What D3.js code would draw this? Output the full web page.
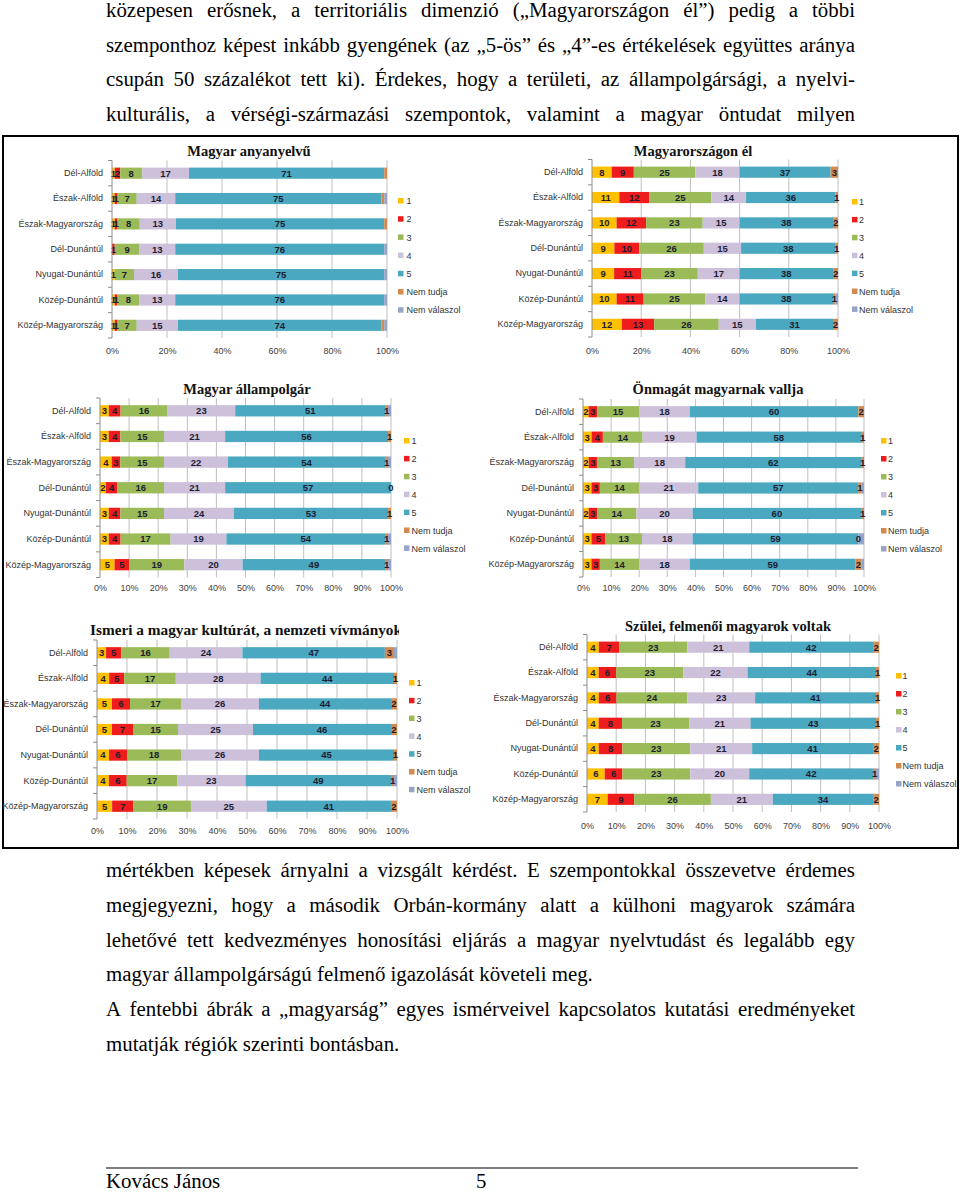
<!DOCTYPE html>
<html><head><meta charset="utf-8">
<script src="https://cdn.jsdelivr.net/npm/d3@7/dist/d3.min.js"></script>
<style>html,body{margin:0;padding:0;background:#fff}svg{display:block}</style>
</head><body>
<svg id="page" width="960" height="1192"></svg>
<script>
// ---------- DATA ----------
const regions = ["Dél-Alföld","Észak-Alföld","Észak-Magyarország","Dél-Dunántúl","Nyugat-Dunántúl","Közép-Dunántúl","Közép-Magyarország"];
const seriesNames = ["1","2","3","4","5","Nem tudja","Nem válaszol"];
const seriesColors = ["#FFC000","#EE1C1C","#9BBB59","#CCC0DA","#4AA8C0","#D48A4E","#96A4C6"];
const tickValues20 = [0,0.2,0.4,0.6,0.8,1];
const tickLabels20 = ["0%","20%","40%","60%","80%","100%"];
const tickValues10 = [0,0.1,0.2,0.3,0.4,0.5,0.6,0.7,0.8,0.9,1];
const tickLabels10 = ["0%","10%","20%","30%","40%","50%","60%","70%","80%","90%","100%"];
// values per region: [1, 2, 3, 4, 5, Nem tudja, Nem válaszol]
const anyanyelvu = [
  [1,2,8,17,71,1,null],[1,1,7,14,75,1,1],[1,1,8,13,75,1,null],[null,1,9,13,76,null,1],
  [1,null,7,16,75,null,1],[1,1,8,13,76,null,1],[1,1,7,15,74,1,1]];
const magyarorszagon = [
  [8,9,25,18,37,3,null],[11,12,25,14,36,1,null],[10,12,23,15,38,2,null],[9,10,26,15,38,1,null],
  [9,11,23,17,38,2,null],[10,11,25,14,38,1,1],[12,13,26,15,31,2,null]];
const allampolgar = [
  [3,4,16,23,51,1,1],[3,4,15,21,56,1,null],[4,3,15,22,54,1,1],[2,4,16,21,57,0,null],
  [3,4,15,24,53,1,null],[3,4,17,19,54,1,1],[5,5,19,20,49,1,1]];
const onmagat = [
  [2,3,15,18,60,2,null],[3,4,14,19,58,1,null],[2,3,13,18,62,1,null],[3,3,14,21,57,1,1],
  [2,3,14,20,60,1,null],[3,5,13,18,59,0,2],[3,3,14,18,59,2,1]];
const kultura = [
  [3,5,16,24,47,3,1],[4,5,17,28,44,1,null],[5,6,17,26,44,2,null],[5,7,15,25,46,2,null],
  [4,6,18,26,45,1,null],[4,6,17,23,49,1,1],[5,7,19,25,41,2,null]];
const szulei = [
  [4,7,23,21,42,2,null],[4,6,23,22,44,1,null],[4,6,24,23,41,1,null],[4,8,23,21,43,1,null],
  [4,8,23,21,41,2,null],[6,6,23,20,42,1,1],[7,9,26,21,34,2,null]];
const chartTitles = ["Magyar anyanyelvű","Magyarországon él","Magyar állampolgár","Önmagát magyarnak vallja",
  "Ismeri a magyar kultúrát, a nemzeti vívmányokat","Szülei, felmenői magyarok voltak"];

const textTop = [
  {t:"közepesen erősnek, a territoriális dimenzió („Magyarországon él”) pedig a többi", j:true},
  {t:"szemponthoz képest inkább gyengének (az „5-ös” és „4”-es értékelések együttes aránya", j:true},
  {t:"csupán 50 százalékot tett ki). Érdekes, hogy a területi, az állampolgársági, a nyelvi-", j:true},
  {t:"kulturális, a vérségi-származási szempontok, valamint a magyar öntudat milyen", j:true}];
const textBottom = [
  {t:"mértékben képesek árnyalni a vizsgált kérdést.  E szempontokkal összevetve érdemes", j:true},
  {t:"megjegyezni, hogy a második Orbán-kormány alatt a külhoni magyarok számára", j:true},
  {t:"lehetővé tett kedvezményes honosítási eljárás a magyar nyelvtudást és legalább egy", j:true},
  {t:"magyar állampolgárságú felmenő igazolását követeli meg.", j:false},
  {t:"A fentebbi ábrák a „magyarság” egyes ismérveivel kapcsolatos kutatási eredményeket", j:true},
  {t:"mutatják régiók szerinti bontásban.", j:false}];
const footerName = "Kovács János";
const footerPage = "5";

// ---------- LAYOUT ----------
const svg = d3.select("#page");
const charts = [
  {data:anyanyelvu, x0:112, x1:387, top:160.5, bottom:338, ticks:[tickValues20,tickLabels20], labY:354,
   tx:249, ty:156, anchor:"middle", ts:14.5, lx:398, ly:201, ls:18.2, nLab:5, lt:8.5},
  {data:magyarorszagon, x0:592, x1:838, top:159.5, bottom:337, ticks:[tickValues20,tickLabels20], labY:354,
   tx:693, ty:156, anchor:"middle", ts:14.5, lx:852, ly:202, ls:17.9, nLab:6, lt:7},
  {data:allampolgar, x0:100, x1:391, top:398, bottom:577.5, ticks:[tickValues10,tickLabels10], labY:591,
   tx:247, ty:394, anchor:"middle", ts:14.5, lx:404, ly:441, ls:17.9, nLab:6, lt:7.5},
  {data:onmagat, x0:583, x1:864, top:399, bottom:577, ticks:[tickValues10,tickLabels10], labY:591,
   tx:718, ty:394, anchor:"middle", ts:14.5, lx:881, ly:441, ls:18, nLab:6, lt:7},
  {data:kultura, x0:97, x1:397, top:640, bottom:819, ticks:[tickValues10,tickLabels10], labY:834,
   tx:90, ty:635, anchor:"start", ts:15.3, clip:399, lx:409, ly:683, ls:17.8, nLab:6, lt:7.5},
  {data:szulei, x0:587, x1:879, top:634.5, bottom:812, ticks:[tickValues10,tickLabels10], labY:829,
   tx:728, ty:631, anchor:"middle", ts:14.5, lx:896, ly:676, ls:18, nLab:6, lt:6.5}
];

// frame
svg.append("rect").attr("x",3).attr("y",136).attr("width",955).attr("height",712)
  .attr("fill","#fff").attr("stroke","#000").attr("stroke-width",2);

const defs = svg.append("defs");

charts.forEach((cfg, ci) => {
  const g = svg.append("g").attr("font-family","'Liberation Sans', Arial, sans-serif");
  const x = d3.scaleLinear().domain([0,1]).range([cfg.x0, cfg.x1]);
  const y = d3.scaleBand().domain(regions).range([cfg.top, cfg.bottom]).paddingInner(0.56).paddingOuter(0.28);
  const step = y.step();

  // gridlines
  g.append("g").selectAll("line").data(cfg.ticks[0].slice(1)).join("line")
    .attr("x1",d=>x(d)).attr("x2",d=>x(d)).attr("y1",cfg.top).attr("y2",cfg.bottom)
    .attr("stroke","#BFBFBF").attr("stroke-width",1);

  // x axis labels
  const xa = g.append("g").attr("transform",`translate(0,${cfg.labY-3})`)
    .call(d3.axisBottom(x).tickValues(cfg.ticks[0]).tickFormat((d,i)=>cfg.ticks[1][i]).tickSize(0).tickPadding(0));
  xa.select(".domain").remove();
  xa.selectAll("text").attr("font-size",9).attr("fill","#404040").attr("font-family","'Liberation Sans', Arial, sans-serif")
    .attr("dy","0.32em");

  // stacked bars (100% stacked)
  const rows = cfg.data.map((v,i)=>{const o={region:regions[i], raw:v}; seriesNames.forEach((k,j)=>o[k]=v[j]==null?0:v[j]); return o;});
  const stacked = d3.stack().keys(seriesNames).offset(d3.stackOffsetExpand)(rows);
  stacked.forEach((layer,j)=>{
    g.append("g").selectAll("rect").data(layer.filter(d=>d.data.raw[j]!=null && d.data.raw[j]>0)).join("rect")
      .attr("x",d=>x(d[0])).attr("width",d=>Math.max(0,x(d[1])-x(d[0])))
      .attr("y",d=>y(d.data.region)).attr("height",y.bandwidth())
      .attr("fill",seriesColors[j]);
  });
  stacked.forEach((layer,j)=>{
    if (j >= cfg.nLab) return;
    g.append("g").selectAll("text").data(layer.filter(d=>d.data.raw[j]!=null)).join("text")
      .attr("x",d=>x((d[0]+d[1])/2)).attr("y",d=>y(d.data.region)+y.bandwidth()/2)
      .attr("dy","0.36em").attr("text-anchor","middle")
      .attr("font-size",9.5).attr("font-weight","bold").attr("fill","#1d1d33")
      .text(d=>d.data.raw[j]);
  });

  // category axis
  g.append("line").attr("x1",cfg.x0).attr("x2",cfg.x0).attr("y1",cfg.top).attr("y2",cfg.bottom)
    .attr("stroke","#8C8C8C").attr("stroke-width",1);
  const bounds = d3.range(regions.length+1).map(i=>cfg.top + i*step);
  g.append("g").selectAll("line").data(bounds).join("line")
    .attr("x1",cfg.x0-4).attr("x2",cfg.x0).attr("y1",d=>d).attr("y2",d=>d)
    .attr("stroke","#8C8C8C").attr("stroke-width",1);
  const ya = g.append("g").attr("transform",`translate(${cfg.x0},0)`)
    .call(d3.axisLeft(y).tickSize(0).tickPadding(9));
  ya.select(".domain").remove();
  ya.selectAll("text").attr("font-size",9).attr("fill","#333").attr("font-family","'Liberation Sans', Arial, sans-serif");

  // title
  const title = g.append("text").attr("x",cfg.tx).attr("y",cfg.ty).attr("text-anchor",cfg.anchor)
    .attr("font-family","'Liberation Serif', 'DejaVu Serif', serif").attr("font-weight","bold")
    .attr("font-size",cfg.ts).attr("fill","#111").text(chartTitles[ci]);
  if (cfg.clip) {
    const id = "clip"+ci;
    defs.append("clipPath").attr("id",id).append("rect").attr("x",0).attr("y",cfg.ty-20).attr("width",cfg.clip).attr("height",30);
    title.attr("clip-path",`url(#${id})`);
  }

  // legend
  const lg = g.append("g").selectAll("g").data(seriesNames).join("g")
    .attr("transform",(d,i)=>`translate(${cfg.lx},${cfg.ly + i*cfg.ls})`);
  lg.append("rect").attr("x",0).attr("y",-3).attr("width",5.5).attr("height",5.5).attr("fill",(d,i)=>seriesColors[i]);
  lg.append("text").attr("x",cfg.lt).attr("y",0).attr("dy","0.35em").attr("font-size",9).attr("fill","#333").text(d=>d);
});

// ---------- BODY TEXT ----------
const tg = svg.append("g").attr("font-family","'Liberation Serif', 'DejaVu Serif', serif").attr("font-size",20).attr("fill","#000");
function measure(s){ const t = tg.append("text").text(s); const w = t.node().getComputedTextLength(); t.remove(); return w; }
const sx = 487 / measure(textBottom[3].t);
const left = 106, fullW = 749;
function drawLine(line, yb) {
  const lg = tg.append("g").attr("transform",`translate(${left},${yb}) scale(${sx},1)`);
  if (!line.j) { lg.append("text").attr("x",0).attr("y",0).text(line.t); return; }
  const words = line.t.split(" ").filter(Boolean);
  const ws = words.map(measure);
  const total = d3.sum(ws);
  const gap = (fullW/sx - total) / (words.length - 1);
  const t = lg.append("text").attr("y",0);
  let cx = 0;
  words.forEach((w,i)=>{ t.append("tspan").attr("x",cx).text(w); cx += ws[i] + gap; });
}
textTop.forEach((l,i)=>drawLine(l, 17 + i*34.6));
textBottom.forEach((l,i)=>drawLine(l, 877 + i*34.8));

// footer
svg.append("line").attr("x1",106).attr("x2",858).attr("y1",1168).attr("y2",1168).attr("stroke","#555").attr("stroke-width",1.5);
tg.append("g").attr("transform",`translate(106,1188) scale(${sx},1)`).append("text").text(footerName);
tg.append("g").attr("transform",`translate(476,1188) scale(${sx},1)`).append("text").text(footerPage);
</script>
</body></html>
